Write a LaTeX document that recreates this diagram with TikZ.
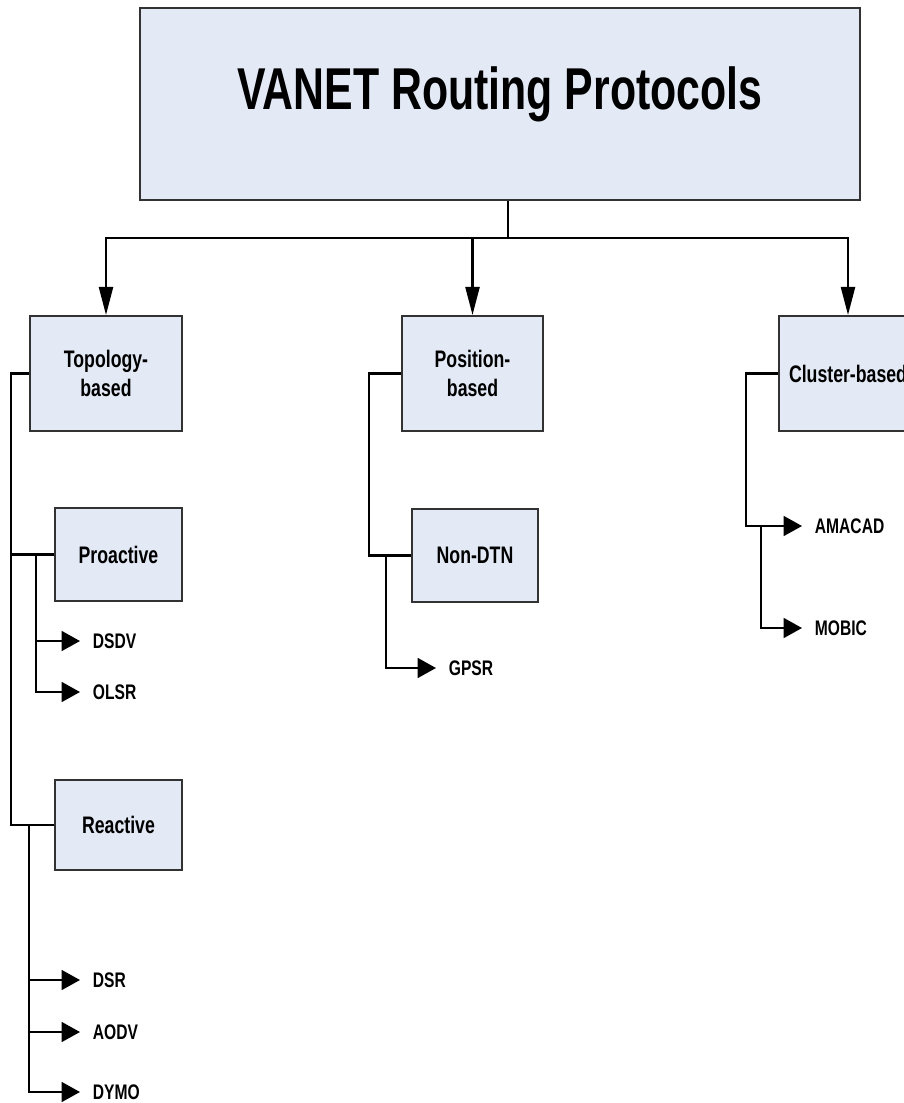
\documentclass[tikz,border=0pt]{standalone}
\usepackage{fontspec}
\setmainfont{Liberation Sans}[FakeStretch=0.74]
\newfontfamily\titlefont{Liberation Sans}[FakeStretch=0.725]
\usetikzlibrary{arrows.meta}
\usetikzlibrary{calc}
\definecolor{boxfill}{RGB}{227,234,245}
\definecolor{boxline}{RGB}{50,50,50}
\tikzset{box/.style={draw=boxline,line width=1.4pt,fill=boxfill,align=center,inner sep=0pt,font=\fontsize{17}{21}\selectfont\bfseries},
leaf/.style={anchor=west,inner xsep=9pt,inner ysep=2pt,font=\fontsize{15}{18}\selectfont\bfseries},
link/.style={line width=1.6pt},
down/.style={link,-{Triangle[length=20pt,width=10pt]}},
side/.style={link,-{Triangle[length=13pt,width=14pt]}}}

\begin{document}
\begin{tikzpicture}[x=0.025cm,y=-0.025cm]
\useasboundingbox (0,0) rectangle (903,1103);
% boxes
\node[box,minimum width=18cm,minimum height=4.8cm,text height=32pt,text depth=23.5pt,font=\titlefont\fontsize{42}{50}\selectfont\bfseries] (title) at (500,104) {VANET Routing Protocols};
\node[box,minimum width=3.8cm,minimum height=2.875cm] (topo) at (106,373.5) {Topology-\\based};
\node[box,minimum width=3.525cm,minimum height=2.875cm] (pos) at (472.5,373.5) {Position-\\based};
\node[box,minimum width=3.45cm,minimum height=2.875cm] (clus) at (848,373.5) {Cluster-based};
\node[box,minimum width=3.175cm,minimum height=2.325cm] (proact) at (118.5,554.5) {Proactive};
\node[box,minimum width=3.175cm,minimum height=2.25cm] (react) at (118.5,825) {Reactive};
\node[box,minimum width=3.15cm,minimum height=2.325cm] (nondtn) at (475,555.5) {Non-DTN};
% leaves
\node[leaf] (dsdv) at (80,641) {DSDV};
\node[leaf] (olsr) at (80,692) {OLSR};
\node[leaf] (dsr) at (80,980) {DSR};
\node[leaf] (aodv) at (80,1032) {AODV};
\node[leaf] (dymo) at (80,1092) {DYMO};
\node[leaf] (gpsr) at (436,668) {GPSR};
\node[leaf] (amacad) at (802,526) {AMACAD};
\node[leaf] (mobic) at (802,628) {MOBIC};
% top level
\coordinate (bus) at (508,238);
\draw[link] (bus |- title.south) -- (bus);
\draw[down] (bus) -| (topo);
\draw[down] (bus) -| (pos);
\draw[down] (bus) -| (clus);
% topology-based
\draw[link] (topo.west) -- ++(-18,0) |- (react.west);
\draw[link] (proact.west) -- ++(-43,0);
\draw[side] (proact.west) ++(-18,0) |- (dsdv.west);
\draw[side] (proact.west) ++(-18,0) |- (olsr.west);
\draw[side] (react.west) ++(-25,0) |- (dsr.west);
\draw[side] (react.west) ++(-25,0) |- (aodv.west);
\draw[side] (react.west) ++(-25,0) |- (dymo.west);
% position-based
\draw[link] (pos.west) -- ++(-32,0) |- (nondtn.west);
\draw[side] (nondtn.west) ++(-25,0) |- (gpsr.west);
% cluster-based
\draw[side] (clus.west) -- ++(-32,0) |- (amacad.west);
\draw[side] ($(amacad.west)+(-41,0)$) |- (mobic.west);
\end{tikzpicture}
\end{document}
